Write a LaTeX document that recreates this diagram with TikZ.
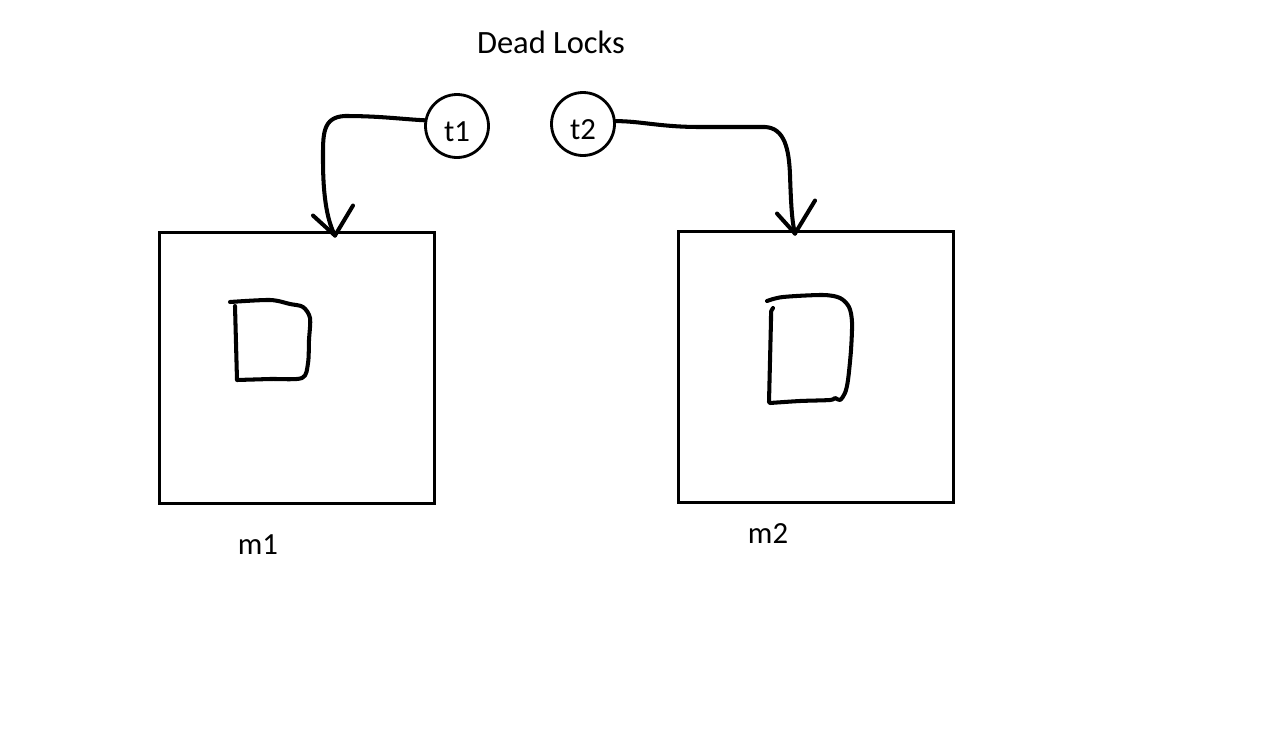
\documentclass[tikz,border=0pt]{standalone}
\usepackage{fontspec}
\setmainfont{Carlito}
\tikzset{
  box/.style={draw, line width=1.7pt, minimum width=5.52cm, minimum height=5.44cm, inner sep=0pt},
  thread/.style={draw, circle, line width=1.6pt, minimum size=1.26cm, inner sep=0pt, text height=18pt, text depth=0pt},
  pen/.style={line width=2.3pt, line cap=round, line join=round}
}
\begin{document}
\begin{tikzpicture}[x=0.02cm, y=-0.02cm, font=\fontsize{17.5}{21}\selectfont]
  \useasboundingbox (0,0) rectangle (1274,744);
  \draw
    (551,42) node[font=\fontsize{18.5}{22}\selectfont] (title) {Dead Locks}
    (457,126) node[thread] (t1) {t1}
    (583,124) node[thread] (t2) {t2}
    (297,368) node[box] (m1) {}
    (816,367) node[box] (m2) {}
    (258,545) node (lm1) {m1}
    (768,534) node (lm2) {m2};
  \begin{scope}[pen]
    \draw plot[smooth, tension=0.5] coordinates {(230,302) (270,300) (290,304) (303,307) (310,318) (309,340) (308,363) (302,378) (270,379) (237,380)} -- (235,306);
    \draw plot[smooth, tension=0.5] coordinates {(767,301) (783,297) (823,295) (840,298) (849,307) (852,322) (851,350) (848,380) (845,393) (840,400) (835,398) (830,400) (800,401) (770,403)};
    \draw (773,308) .. controls (771,310) .. (771,320) -- (769,402);
    \draw (t1.170) .. controls (400,119) and (380,116) .. (345,116) .. controls (322,117) and (323,135) .. (323,160) .. controls (323,200) and (328,222) .. ([xshift=0.76cm, yshift=-0.1cm]m1.north) coordinate (h1);
    \draw (h1) -- ++(-22,-20) (h1) -- ++(18,-30);
    \draw (t2.5) .. controls (640,121) and (660,127) .. (700,127) -- (765,127) .. controls (785,128) and (789,150) .. (790,175) .. controls (791,205) and (792,222) .. ([xshift=-0.42cm, yshift=-0.08cm]m2.north) coordinate (h2);
    \draw (h2) -- ++(-18,-20) (h2) -- ++(20,-33);
  \end{scope}
\end{tikzpicture}
\end{document}
